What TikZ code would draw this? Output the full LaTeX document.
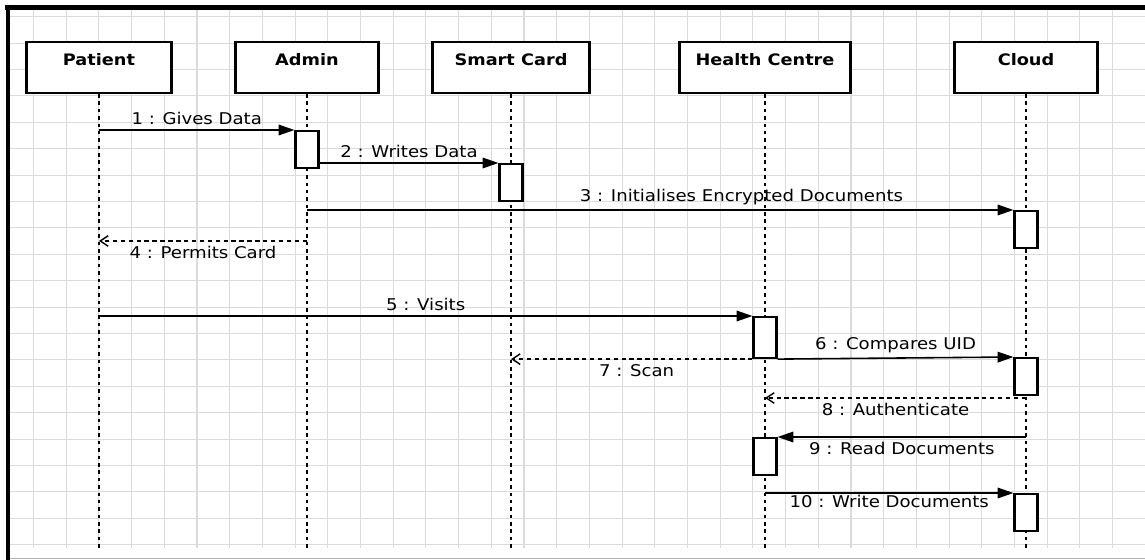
\documentclass[tikz,border=0pt]{standalone}
\usepackage{fontspec}
\setmainfont{DejaVu Sans}
\newfontfamily\diagfont{DejaVu Sans}[FakeStretch=1.12]
\usetikzlibrary{arrows.meta}

\tikzset{
  gridline/.style={gray!28, line width=0.6pt},
  actor/.style={draw, line width=1.2pt, fill=white, minimum height=1.02cm,
    text height=7pt, text depth=8.9pt, font=\diagfont\fontsize{9}{10}\selectfont\bfseries},
  act/.style={draw, line width=1.2pt, fill=white, minimum width=0.46cm,
    minimum height=0.74cm, inner sep=0pt, anchor=north},
  life/.style={line width=1.2pt, dash pattern=on 2pt off 2.2pt},
  msg/.style={line width=0.9pt, -{Triangle[length=9pt,width=6pt]}},
  reply/.style={line width=0.8pt, dash pattern=on 2.5pt off 2pt,
    -{Straight Barb[length=4.5pt,width=6pt]}},
  lbl/.style={font=\diagfont\fontsize{9.2}{10}\selectfont, inner sep=2.5pt},
}

\begin{document}
\begin{tikzpicture}[x=0.02cm, y=-0.02cm]
    \useasboundingbox (0,0) rectangle (1145,560);
    % background grid
    \foreach \i in {1,...,34}
      \draw[gridline] (0.8+32.7*\i,10) -- (0.8+32.7*\i,548);
    \foreach \j in {0,...,20}
      \draw[gridline] (10,16.7+26.4*\j) -- (1145,16.7+26.4*\j);
    % frame
    \draw[line width=2.8pt] (5,7.5) -- (1145,7.5);
    \draw[line width=2.8pt] (8,5) -- (8,560);
    \draw[gray!60, line width=1pt] (10,558.5) -- (1145,558.5);

    % participants
    \node[actor, minimum width=2.9cm] (patient) at (99,67.5) {Patient};
    \node[actor, minimum width=2.86cm] (admin) at (307,67.5) {Admin};
    \node[actor, minimum width=3.14cm] (card) at (511,67.5) {Smart Card};
    \node[actor, minimum width=3.42cm] (centre) at (765,67.5) {Health Centre};
    \node[actor, minimum width=2.86cm] (cloud) at (1026,67.5) {Cloud};

    % lifelines
    \coordinate (bottom) at (0,548);
    \foreach \n in {patient,admin,card,centre,cloud}
      \draw[life] (\n.south) -- (\n.south |- bottom);

    % activations
    \node[act] (a1) at (admin |- 0,130) {};
    \node[act] (a2) at (card |- 0,163) {};
    \node[act] (a3) at (cloud |- 0,210) {};
    \node[act, minimum height=0.82cm] (a4) at (centre |- 0,316) {};
    \node[act] (a5) at (cloud |- 0,357) {};
    \node[act] (a6) at (centre |- 0,437) {};
    \node[act] (a7) at (cloud |- 0,493) {};

    % messages
    \draw[msg] (patient |- a1.north) -- node[lbl, above] {1 : Gives Data} (a1.north west);
    \draw[msg] (a1.east |- a2.north) -- node[lbl, above] {2 : Writes Data} (a2.north west);
    \draw[msg] (admin |- a3.north) -- node[lbl, above, pos=0.615] {3 : Initialises Encrypted Documents} (a3.north west);
    \draw[reply] (admin |- 0,241) -- node[lbl, below] {4 : Permits Card} (patient |- 0,241);
    \draw[msg] (patient |- a4.north) -- node[lbl, above] {5 : Visits} (a4.north west);
    \draw[msg] (a4.south east) -- node[lbl, above] {6 : Compares UID} (a5.north west);
    \draw[reply] (a4.south west) -- node[lbl, below, pos=0.48] {7 : Scan} (card |- a4.south);
    \draw[reply] (cloud |- 0,398) -- node[lbl, below] {8 : Authenticate} (centre |- 0,398);
    \draw[msg] (cloud |- a6.north) -- node[lbl, below] {9 : Read Documents} (a6.north east);
    \draw[msg] (centre |- a7.north) -- node[lbl, below, inner sep=1pt] {10 : Write Documents} (a7.north west);
\end{tikzpicture}
\end{document}
